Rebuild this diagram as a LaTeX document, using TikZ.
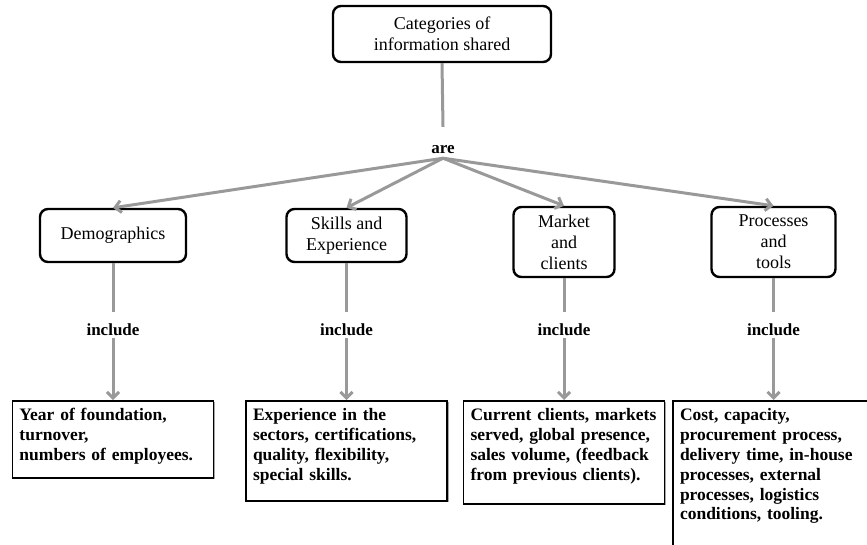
\documentclass[tikz,border=0pt]{standalone}
\usepackage{fontspec}
\setmainfont{Liberation Serif}
\usetikzlibrary{arrows.meta,shadows}

\tikzset{
  topbox/.style={draw, line width=2.4pt, rounded corners=8pt, align=center, inner sep=2pt,
    font=\fontsize{18}{21}\selectfont},
  verb/.style={inner sep=0pt, anchor=base, font=\fontsize{17}{19}\selectfont\bfseries},
  itembox/.style={draw, fill=white, line width=1.6pt, anchor=north, align=left, text width=187pt,
    inner xsep=7pt, inner ysep=7pt, text height=13pt,
    font=\fontsize{17.5}{19.8}\selectfont\bfseries,
    drop shadow={shadow xshift=1.5pt, shadow yshift=-1.5pt, fill=black!35, opacity=1}},
  link/.style={line width=3pt, draw=black!40},
  arr/.style={link, -{Straight Barb[length=6pt,width=12pt]}}
}

\begin{document}
\begin{tikzpicture}[x=1pt,y=-1pt]
\useasboundingbox (0,0) rectangle (867,544);
\clip (0,0) rectangle (867,544);
% top and categories
\node[topbox, minimum width=218pt, minimum height=56pt] (cat) at (442,34) {Categories of\\information shared};
\node[verb, text height=26pt, text depth=5pt] (are) at (443,153) {are};
\node[topbox, minimum width=146pt, minimum height=53pt] (demo) at (113,235.5) {Demographics};
\node[topbox, minimum width=120pt, minimum height=53pt] (skill) at (346.5,235.5) {Skills and\\Experience};
\node[topbox, minimum width=101pt, minimum height=70pt] (market) at (564,242) {Market\\and\\clients};
\node[topbox, minimum width=124pt, minimum height=70pt] (proc) at (773.5,242) {Processes\\and\\tools};
% include
\node[verb, text height=23pt, text depth=3pt] (inc1) at (113,335) {include};
\node[verb, text height=23pt, text depth=3pt] (inc2) at (346.5,335) {include};
\node[verb, text height=23pt, text depth=3pt] (inc3) at (564,335) {include};
\node[verb, text height=23pt, text depth=3pt] (inc4) at (773.5,335) {include};
% details
\node[itembox, text depth=50pt] (det1) at (113,400) {Year of foundation,\\turnover,\\numbers of employees.};
\node[itembox, text depth=73pt] (det2) at (346.5,400) {Experience in the\\sectors, certifications,\\quality, flexibility,\\special skills.};
\node[itembox, text depth=76pt] (det3) at (564,400) {Current clients, markets\\served, global presence,\\sales volume, (feedback\\from previous clients).};
\node[itembox, text depth=143pt] (det4) at (773.5,400) {Cost, capacity,\\procurement process,\\delivery time, in-house\\processes, external\\processes, logistics\\conditions, tooling.};
% connectors
\draw[link] (cat.south) -- (are.north);
\draw[arr] (are.south) -- (demo.north);
\draw[arr] (are.south) -- (skill.north);
\draw[arr] (are.south) -- (market.north);
\draw[arr] (are.south) -- (proc.north);
\draw[link] (demo.south) -- (inc1.north);
\draw[link] (skill.south) -- (inc2.north);
\draw[link] (market.south) -- (inc3.north);
\draw[link] (proc.south) -- (inc4.north);
\draw[arr] (inc1.south) -- (det1.north);
\draw[arr] (inc2.south) -- (det2.north);
\draw[arr] (inc3.south) -- (det3.north);
\draw[arr] (inc4.south) -- (det4.north);
\end{tikzpicture}
\end{document}
